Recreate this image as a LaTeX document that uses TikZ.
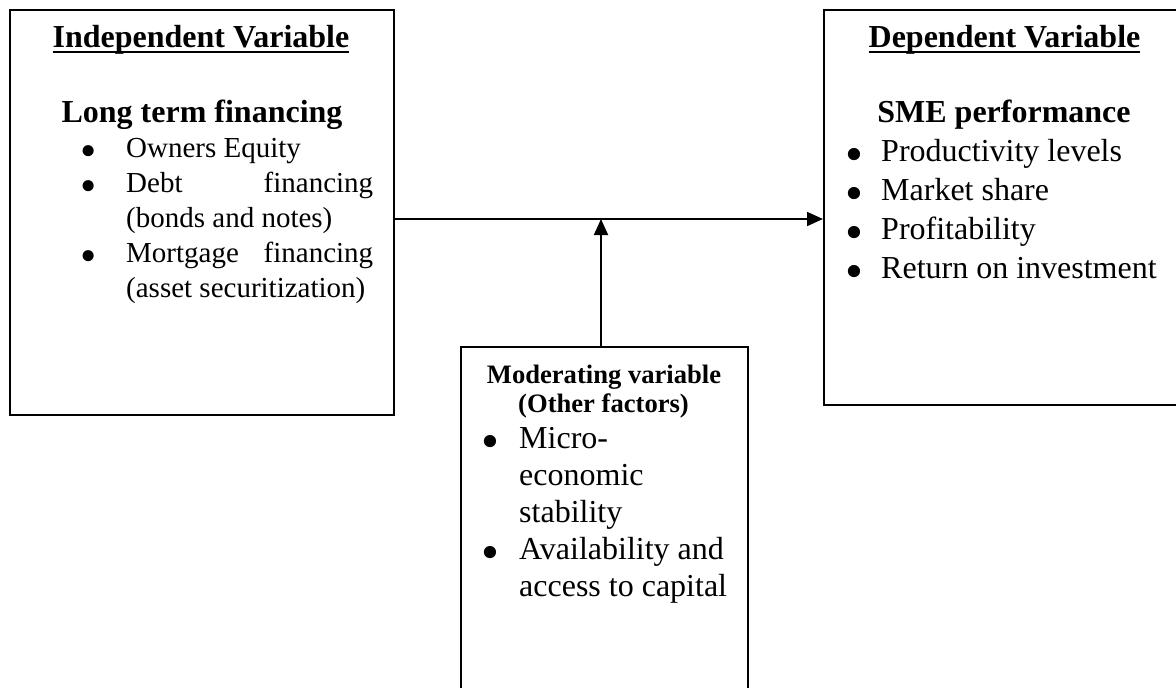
\documentclass[tikz,border=0pt]{standalone}
\usepackage{fontspec}
\usepackage{graphicx}
\setmainfont{Liberation Serif}
\usetikzlibrary{arrows.meta}
\tikzset{
varbox/.style={draw, line width=1.5pt, anchor=north west, inner sep=0pt},
varhead/.style={anchor=base, inner sep=0pt, font=\fontsize{32}{38}\selectfont\bfseries},
modhead/.style={anchor=base, inner sep=0pt, font=\fontsize{26.6}{29}\selectfont\bfseries},
varlist/.style={anchor=base west, inner sep=0pt},
link/.style={line width=1.8pt, -{Triangle[length=16pt,width=14pt]}}
}
\newcommand{\uhead}[1]{\setbox0=\hbox{#1}\rlap{\rule[-6pt]{\wd0}{2.2pt}}\box0}
\newcommand{\bul}{\smash{\raisebox{-0.335em}{\scalebox{1.6}{\textbullet}}}}

\begin{document}
\begin{tikzpicture}[x=1pt, y=-1pt]
	\useasboundingbox (0,0) rectangle (1176,688);
	\node[varbox, minimum width=384pt, minimum height=405pt] (indepbox) at (9,9) {};
	\node[varbox, minimum width=363pt, minimum height=395pt] (depbox) at (823,9) {};
	\node[varbox, minimum width=287pt, minimum height=360pt] (modbox) at (460,346) {};

	\node[varhead] (indephead) at (201,47) {\uhead{Independent Variable}};
	\node[varhead] (indepsub) at (202,122) {Long term financing};
	\node[varlist, font=\fontsize{29}{35}\selectfont] (indeplist) at (80,157)
	{\begin{tabular}[t]{@{}p{46pt}@{}p{247pt}@{}}
		\bul & Owners Equity\\
		\bul & Debt\hfill financing\newline(bonds and notes)\\
		\bul & Mortgage\hfill financing\newline(asset securitization)
	\end{tabular}};

	\node[varhead] (dephead) at (1004.5,47) {\uhead{Dependent Variable}};
	\node[varhead] (depsub) at (1004,122) {SME performance};
	\node[varlist, font=\fontsize{32}{39}\selectfont] (deplist) at (845,161)
	{\begin{tabular}[t]{@{}p{36pt}@{}l@{}}
		\bul & Productivity levels\\
		\bul & Market share\\
		\bul & Profitability\\
		\bul & Return on investment
	\end{tabular}};

	\node[modhead] (modtitle) at (604,383) {Moderating variable};
	\node[modhead] (modsub) at (603.5,412) {(Other factors)};
	\node[varlist, font=\fontsize{32}{37}\selectfont] (modlist) at (481,448)
	{\begin{tabular}[t]{@{}p{38pt}@{}l@{}}
		\bul & Micro-\\
		 & economic\\
		 & stability\\
		\bul & Availability and\\
		 & access to capital
	\end{tabular}};

	\coordinate (join) at (601,219);
	\draw[link] (indepbox.east |- join) -- (depbox.west |- join);
	\draw[link] (modbox.north -| join) -- (join);
\end{tikzpicture}
\end{document}
